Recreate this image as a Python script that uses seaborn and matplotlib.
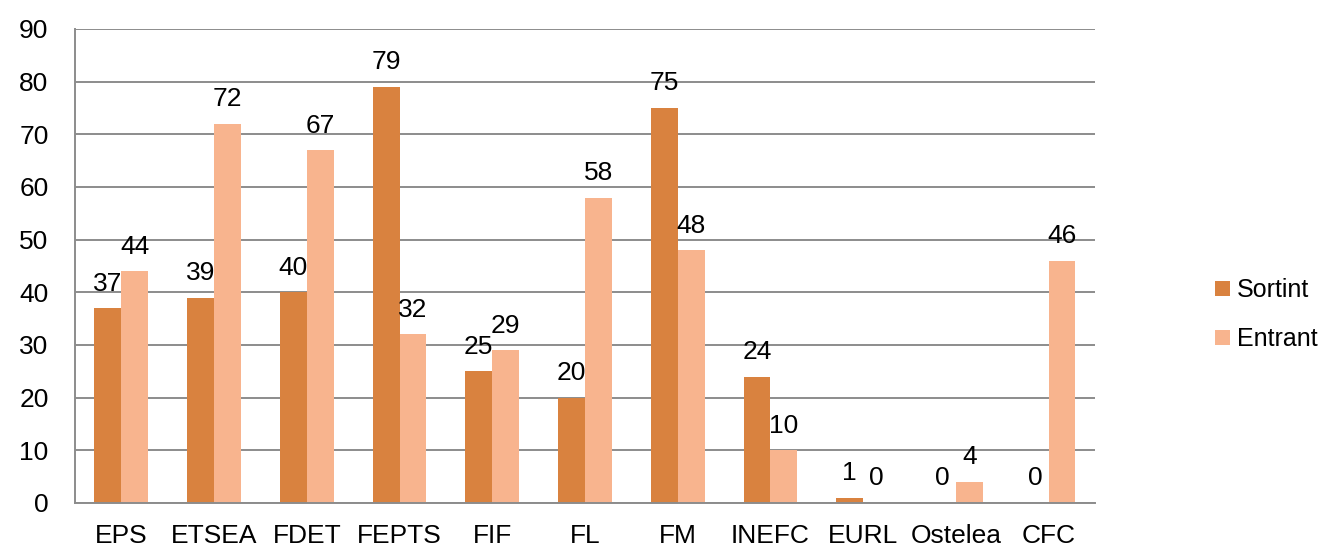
import matplotlib
matplotlib.use('Agg')
import matplotlib.pyplot as plt
import seaborn as sns
import pandas as pd
import numpy as np
from matplotlib.ticker import FixedLocator

# Data
categories = ['EPS', 'ETSEA', 'FDET', 'FEPTS', 'FIF', 'FL', 'FM', 'INEFC', 'EURL', 'Ostelea', 'CFC']
sortint = [37, 39, 40, 79, 25, 20, 75, 24, 1, 0, 0]
entrant = [44, 72, 67, 32, 29, 58, 48, 10, 0, 4, 46]
series = ['Sortint', 'Entrant']
colors = ['#D9823F', '#F8B48E']

df = pd.DataFrame({'cat': categories * 2,
                   'value': sortint + entrant,
                   'serie': ['Sortint'] * len(categories) + ['Entrant'] * len(categories)})

sns.set_style('white')
plt.rcParams['font.family'] = ['Liberation Sans', 'DejaVu Sans']
plt.rcParams['text.color'] = 'black'
plt.rcParams['xtick.labelcolor'] = 'black'
plt.rcParams['ytick.labelcolor'] = 'black'

fs = 19

fig = plt.figure(figsize=(13.2, 5.52), dpi=100)
ax = fig.add_axes([0.0568, 0.0888, 0.7727, 0.8587])

sns.barplot(data=df, x='cat', y='value', hue='serie', hue_order=series,
            palette=colors, width=0.58, gap=0, saturation=1, ax=ax,
            linewidth=0, legend=True)

# data labels
for cont in ax.containers:
    for bar in cont:
        h = bar.get_height()
        ax.annotate(f'{int(h)}', (bar.get_x() + bar.get_width() / 2, h),
                    xytext=(0, 9), textcoords='offset points',
                    ha='center', va='bottom', fontsize=fs, color='black')

ax.set_ylim(0, 90)
ax.set_xlim(-0.5, len(categories) - 0.5)
ax.set_yticks(np.arange(0, 91, 10))
ax.yaxis.grid(True, color='#8c8c8c', linewidth=1.4)
ax.set_axisbelow(True)
ax.set_xlabel('')
ax.set_ylabel('')

for s in ['top', 'right']:
    ax.spines[s].set_visible(False)
for s in ['left', 'bottom']:
    ax.spines[s].set_color('#8c8c8c')
    ax.spines[s].set_linewidth(1.4)

ax.tick_params(axis='y', length=9, width=1.4, color='#8c8c8c', labelsize=fs, pad=10)
ax.tick_params(axis='x', which='major', length=0, labelsize=fs, pad=15)
ax.xaxis.set_minor_locator(FixedLocator(np.arange(-0.5, len(categories), 1)))
ax.tick_params(axis='x', which='minor', length=8, width=1.4, color='#8c8c8c')

leg = ax.legend(loc='center left', bbox_to_anchor=(1.118, 0.397), frameon=False,
                fontsize=18, handlelength=0.6, handleheight=0.6,
                handletextpad=0.25, labelspacing=1.0, borderaxespad=0, borderpad=0)

fig.savefig('out.png', dpi=100)
